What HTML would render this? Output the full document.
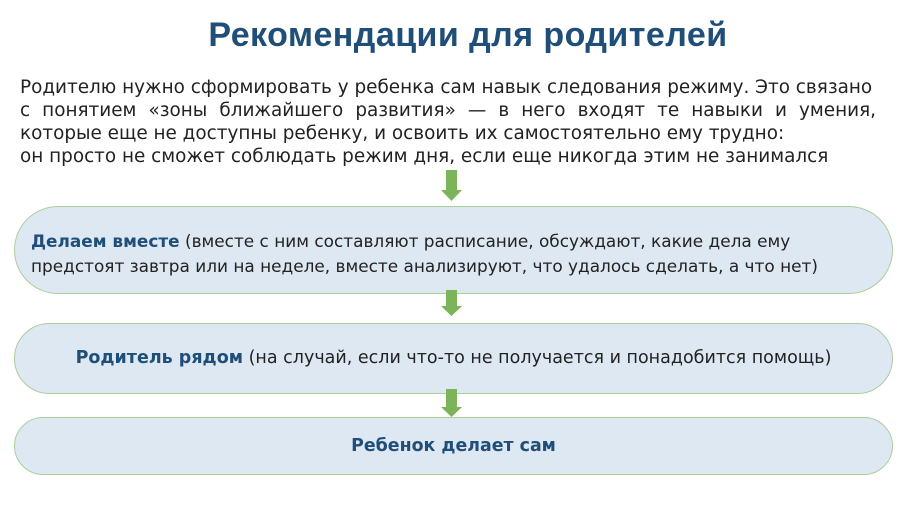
<!DOCTYPE html>
<html><head><meta charset="utf-8"><style>
body{margin:0;width:900px;height:506px;background:#fff;position:relative;overflow:hidden;font-family:"DejaVu Sans","Liberation Sans",sans-serif;}
.t{position:absolute;left:0;width:936px;text-align:center;top:16px;font:bold 34px "Liberation Sans",sans-serif;color:#1f4e79;letter-spacing:0.45px;}
.l{position:absolute;left:20px;font-size:18.4px;color:#222;white-space:nowrap;line-height:20px;}
.j{width:856px;text-align:justify;text-align-last:justify;white-space:normal;}
.box{position:absolute;left:14px;width:879px;background:#dde8f3;border:1.5px solid #a9cf9a;box-sizing:border-box;font-size:16.9px;color:#222;white-space:nowrap;}
b{color:#1f4e79;}
.ar{position:absolute;left:441px;width:21px;}
</style></head><body>
<div class="t">Рекомендации для родителей</div>
<div class="l" style="top:78px">Родителю нужно сформировать у ребенка сам навык следования режиму. Это связано</div>
<div class="l j" style="top:101px">с понятием «зоны ближайшего развития» — в него входят те навыки и умения,</div>
<div class="l" style="top:124px">которые еще не доступны ребенку, и освоить их самостоятельно ему трудно:</div>
<div class="l" style="top:147px">он просто не сможет соблюдать режим дня, если еще никогда этим не занимался</div>

<svg class="ar" style="top:170px" height="31" viewBox="0 0 21 31"><polygon points="5,0 16,0 16,20 21,20 10.5,31 0,20 5,20" fill="#7cb45a"/></svg>
<div class="box" style="top:206px;height:88px;border-radius:44px;padding:22px 0 0 16px;line-height:25px">
<b>Делаем вместе</b> (вместе с ним составляют расписание, обсуждают, какие дела ему<br>предстоят завтра или на неделе, вместе анализируют, что удалось сделать, а что нет)</div>
<svg class="ar" style="top:290px" height="26" viewBox="0 0 21 26"><polygon points="5,0 16,0 16,16 21,16 10.5,26 0,16 5,16" fill="#7cb45a"/></svg>
<div class="box" style="top:323px;height:71px;border-radius:36px;text-align:center;line-height:68px;font-size:17.5px">
<b>Родитель рядом</b> (на случай, если что-то не получается и понадобится помощь)</div>
<svg class="ar" style="top:389px" height="28" viewBox="0 0 21 28"><polygon points="5,0 16,0 16,18 21,18 10.5,28 0,18 5,18" fill="#7cb45a"/></svg>
<div class="box" style="top:417px;height:58px;border-radius:29px;text-align:center;line-height:56px;font-size:17.4px">
<b>Ребенок делает сам</b></div>
</body></html>
